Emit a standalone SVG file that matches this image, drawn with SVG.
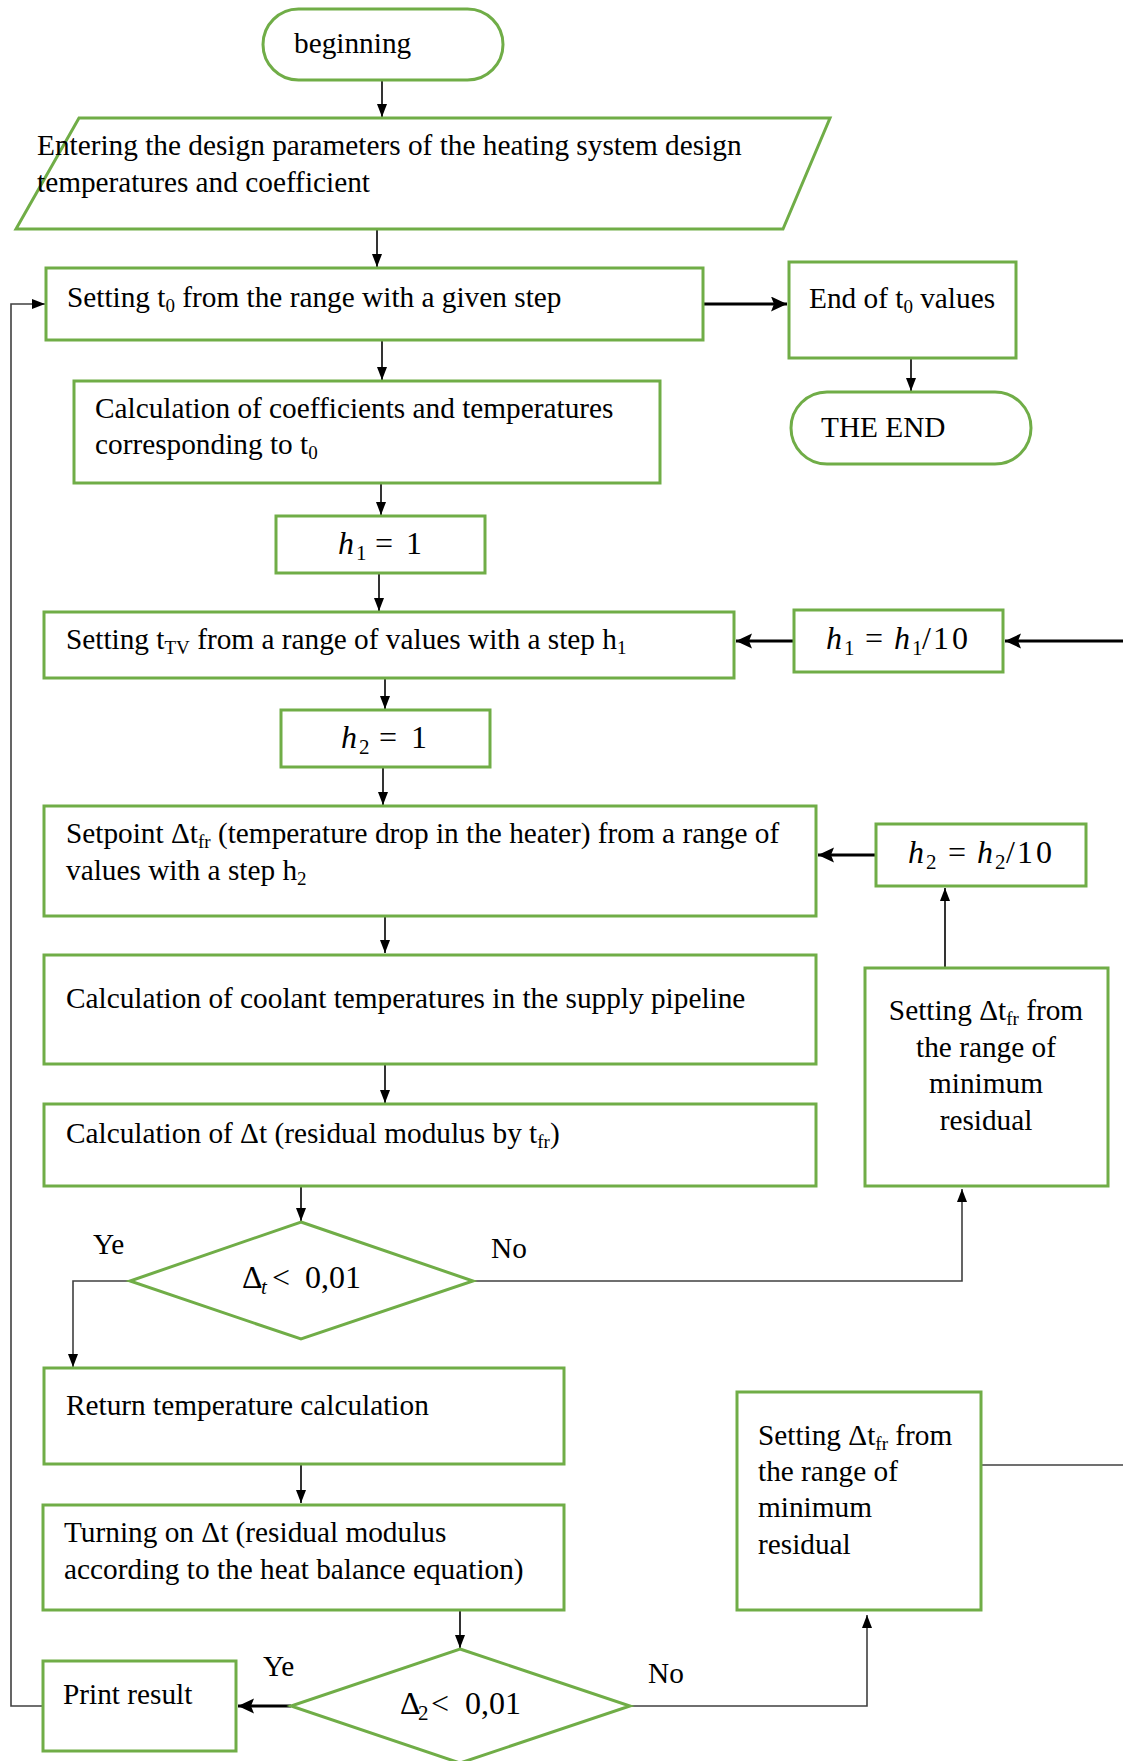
<svg xmlns="http://www.w3.org/2000/svg" width="1123" height="1761" viewBox="0 0 1123 1761">
<style>
.n{fill:#fff;stroke:#70AD47;stroke-width:3}
.t{font-family:"Liberation Serif","Times New Roman",serif;font-size:29.3px;fill:#000}
.m{font-family:"Liberation Serif","Times New Roman",serif;font-size:32px;fill:#000}
.s{font-size:21px}
.i{font-style:italic}
.c{fill:none;stroke:#000;stroke-width:1.6}
.k{fill:none;stroke:#000;stroke-width:3}
.g{fill:none;stroke:#404040;stroke-width:1.6}
</style>
<defs>
<marker id="a" markerUnits="userSpaceOnUse" markerWidth="14" markerHeight="12" refX="13" refY="5" orient="auto"><path d="M0,0 L13,5 L0,10 z" fill="#000"/></marker>
<marker id="b" markerUnits="userSpaceOnUse" markerWidth="18" markerHeight="16" refX="16" refY="7.5" orient="auto"><path d="M0,0 L16,7.5 L0,15 L3,7.5 z" fill="#000"/></marker>
</defs>
<g id="connectors">
<path class="c" d="M382,81 V117" marker-end="url(#a)"/>
<path class="c" d="M377,230 V267" marker-end="url(#a)"/>
<path class="k" d="M703,304 H787" marker-end="url(#b)"/>
<path class="c" d="M911,359 V391" marker-end="url(#a)"/>
<path class="c" d="M382,341 V380" marker-end="url(#a)"/>
<path class="c" d="M381,484 V515" marker-end="url(#a)"/>
<path class="c" d="M379,574 V611" marker-end="url(#a)"/>
<path class="k" d="M794,641 H736" marker-end="url(#b)"/>
<path class="k" d="M1123,641 H1005" marker-end="url(#b)"/>
<path class="c" d="M385,679 V709" marker-end="url(#a)"/>
<path class="c" d="M383,768 V805" marker-end="url(#a)"/>
<path class="k" d="M876,855 H818" marker-end="url(#b)"/>
<path class="c" d="M945,968 V888" marker-end="url(#a)"/>
<path class="c" d="M385,917 V953" marker-end="url(#a)"/>
<path class="c" d="M385,1065 V1103" marker-end="url(#a)"/>
<path class="c" d="M301,1187 V1221" marker-end="url(#a)"/>
<path class="g" d="M473,1281 H962 V1189" marker-end="url(#a)"/>
<path class="g" d="M130,1281 H73 V1367" marker-end="url(#a)"/>
<path class="c" d="M301,1465 V1503" marker-end="url(#a)"/>
<path class="c" d="M460,1611 V1648" marker-end="url(#a)"/>
<path class="k" d="M291,1706 H238" marker-end="url(#b)"/>
<path class="g" d="M43,1706 H11 V304 H45" marker-end="url(#a)"/>
<path class="g" d="M630,1706 H867 V1615" marker-end="url(#a)"/>
<path class="g" d="M981,1465 H1123"/>
</g>
<g id="beginning"><rect class="n" x="263" y="9" width="240" height="71" rx="35.5"/><text class="t" x="294" y="53">beginning</text></g>
<g id="input"><polygon class="n" points="79,118 830,118 783,229 16,229"/><text class="t" x="37" y="155">Entering the design parameters of the heating system design</text><text class="t" x="37" y="192">temperatures and coefficient</text></g>
<g id="set-t0"><rect class="n" x="46" y="268" width="657" height="72"/><text class="t" x="67" y="307">Setting t<tspan font-size="19" dy="5">0</tspan><tspan dy="-5"> from the range with a given step</tspan></text></g>
<g id="end-t0"><rect class="n" x="789" y="262" width="227" height="96"/><text class="t" x="809" y="308">End of t<tspan font-size="19" dy="5">0</tspan><tspan dy="-5"> values</tspan></text></g>
<g id="the-end"><rect class="n" x="791" y="392" width="240" height="72" rx="36"/><text class="t" x="821" y="437">THE END</text></g>
<g id="calc-coef"><rect class="n" x="74" y="381" width="586" height="102"/><text class="t" x="95" y="418">Calculation of coefficients and temperatures</text><text class="t" x="95" y="454">corresponding to t<tspan font-size="19" dy="5">0</tspan></text></g>
<g id="h1-init"><rect class="n" x="276" y="516" width="209" height="57"/><text class="m" y="554"><tspan class="i" x="338">h</tspan><tspan class="s" x="356" y="560">1</tspan><tspan x="375" y="554">=</tspan><tspan x="406">1</tspan></text></g>
<g id="set-ttv"><rect class="n" x="44" y="612" width="690" height="66"/><text class="t" x="66" y="649">Setting t<tspan font-size="19" dy="5">TV</tspan><tspan dy="-5"> from a range of values with a step h</tspan><tspan font-size="19" dy="5">1</tspan></text></g>
<g id="h1-div"><rect class="n" x="794" y="610" width="209" height="62"/><text class="m" y="649"><tspan class="i" x="826">h</tspan><tspan class="s" x="844" y="655">1</tspan><tspan x="865" y="649">=</tspan><tspan class="i" x="894">h</tspan><tspan class="s" x="912" y="655">1</tspan><tspan x="922" y="649">/</tspan><tspan x="933" letter-spacing="3">10</tspan></text></g>
<g id="h2-init"><rect class="n" x="281" y="710" width="209" height="57"/><text class="m" y="748"><tspan class="i" x="341">h</tspan><tspan class="s" x="359" y="754">2</tspan><tspan x="379" y="748">=</tspan><tspan x="411">1</tspan></text></g>
<g id="h2-div"><rect class="n" x="876" y="824" width="210" height="62"/><text class="m" y="863"><tspan class="i" x="908">h</tspan><tspan class="s" x="926" y="869">2</tspan><tspan x="948" y="863">=</tspan><tspan class="i" x="977">h</tspan><tspan class="s" x="995" y="869">2</tspan><tspan x="1006" y="863">/</tspan><tspan x="1017" letter-spacing="3">10</tspan></text></g>
<g id="setpoint"><rect class="n" x="44" y="806" width="772" height="110"/><text class="t" x="66" y="843">Setpoint Δt<tspan font-size="19" dy="5">fr</tspan><tspan dy="-5"> (temperature drop in the heater) from a range of</tspan></text><text class="t" x="66" y="880">values with a step h<tspan font-size="19" dy="5">2</tspan></text></g>
<g id="coolant"><rect class="n" x="44" y="955" width="772" height="109"/><text class="t" x="66" y="1008">Calculation of coolant temperatures in the supply pipeline</text></g>
<g id="calc-dt"><rect class="n" x="44" y="1104" width="772" height="82"/><text class="t" x="66" y="1143">Calculation of Δt (residual modulus by t<tspan font-size="19" dy="5">fr</tspan><tspan dy="-5">)</tspan></text></g>
<g id="set-dtfr-1"><rect class="n" x="865" y="968" width="243" height="218"/><text class="t" text-anchor="middle"><tspan x="986" y="1020">Setting Δt<tspan font-size="19" dy="5">fr</tspan><tspan dy="-5"> from</tspan></tspan><tspan x="986" y="1057">the range of</tspan><tspan x="986" y="1093">minimum</tspan><tspan x="986" y="1130">residual</tspan></text></g>
<g id="decision-1"><polygon class="n" points="301,1222 473,1281 301,1339 130,1281"/><text class="m" y="1288"><tspan x="242">Δ</tspan><tspan class="i s" x="261" y="1294">t</tspan><tspan x="272" y="1288">&lt;</tspan><tspan x="305">0,01</tspan></text></g>
<g id="return-temp"><rect class="n" x="44" y="1368" width="520" height="96"/><text class="t" x="66" y="1415">Return temperature calculation</text></g>
<g id="turning"><rect class="n" x="43" y="1505" width="521" height="105"/><text class="t" x="64" y="1542">Turning on Δt (residual modulus</text><text class="t" x="64" y="1579">according to the heat balance equation)</text></g>
<g id="set-dtfr-2"><rect class="n" x="737" y="1392" width="244" height="218"/><text class="t"><tspan x="758" y="1445">Setting Δt<tspan font-size="19" dy="5">fr</tspan><tspan dy="-5"> from</tspan></tspan><tspan x="758" y="1481">the range of</tspan><tspan x="758" y="1517">minimum</tspan><tspan x="758" y="1554">residual</tspan></text></g>
<g id="decision-2"><polygon class="n" points="460,1649 630,1706 460,1763 291,1706"/><text class="m" y="1714"><tspan x="400">Δ</tspan><tspan class="s" x="418" y="1720">2</tspan><tspan x="431" y="1714">&lt;</tspan><tspan x="465">0,01</tspan></text></g>
<g id="print"><rect class="n" x="43" y="1661" width="193" height="90"/><text class="t" x="63" y="1704">Print result</text></g>
<g id="labels">
<text class="t" x="93" y="1254">Ye</text>
<text class="t" x="491" y="1258">No</text>
<text class="t" x="263" y="1676">Ye</text>
<text class="t" x="648" y="1683">No</text>
</g>
</svg>
